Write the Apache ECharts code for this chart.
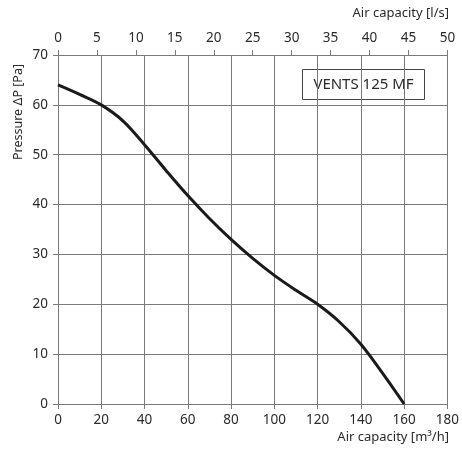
<!DOCTYPE html>
<html>
<head>
<meta charset="utf-8">
<script src="https://cdn.jsdelivr.net/npm/echarts@6/dist/echarts.min.js"></script>
<style>
  html, body { margin: 0; padding: 0; background: #fff; }
  #container { width: 462px; height: 454px; }
</style>
</head>
<body>
<div id="container"></div>
<script>
// air capacity m3/h vs pressure Pa
var flowM3h = [0, 10, 20, 30, 40, 50, 60, 70, 80, 90, 100, 110, 120, 130, 140, 150, 160];
var pressure = [64, 62.1, 60, 56.8, 52, 46.8, 41.8, 37.2, 33, 29.2, 25.8, 22.8, 20, 16.5, 12, 6.2, 0];
var modelName = 'VENTS 125 MF';

var dom = document.getElementById('container');
var myChart = echarts.init(dom, null, { renderer: 'canvas' });

var font = 'Noto Sans';
var gridColor = '#7a7a7a';
var textColor = '#2a2a2a';

var option = {
  animation: false,
  backgroundColor: '#fff',
  grid: { left: 58, right: 8, top: 55, bottom: 50 },
  xAxis: [
    {
      type: 'value',
      position: 'bottom',
      min: 0, max: 180, interval: 20,
      axisLine: { show: true, lineStyle: { color: gridColor, width: 1 } },
      axisTick: { show: true, length: 5, lineStyle: { color: gridColor } },
      axisLabel: { color: textColor, fontFamily: font, fontSize: 13.5, margin: 9 },
      splitLine: { show: true, lineStyle: { color: gridColor, width: 1 } }
    },
    {
      type: 'value',
      position: 'top',
      min: 0, max: 50, interval: 5,
      axisLine: { show: true, onZero: false, lineStyle: { color: gridColor, width: 1 } },
      axisTick: { show: true, length: 5, lineStyle: { color: gridColor } },
      axisLabel: { color: textColor, fontFamily: font, fontSize: 13.5, margin: 10 },
      splitLine: { show: false }
    }
  ],
  yAxis: {
    type: 'value',
    min: 0, max: 70, interval: 10,
    axisLine: { show: true, lineStyle: { color: gridColor, width: 1 } },
    axisTick: { show: true, length: 5, lineStyle: { color: gridColor } },
    axisLabel: { color: textColor, fontFamily: font, fontSize: 13.5, margin: 10 },
    splitLine: { show: true, lineStyle: { color: gridColor, width: 1 } }
  },
  graphic: [
    {
      type: 'text', right: 13, top: 7,
      style: { text: 'Air capacity [l/s]', fill: textColor, font: '13px "Noto Sans"' }
    },
    {
      type: 'text', right: 13, top: 431,
      style: { text: 'Air capacity [m³/h]', fill: textColor, font: '13px "Noto Sans"' }
    },
    {
      type: 'text', x: 18, y: 112, rotation: Math.PI / 2,
      style: { text: 'Pressure ΔP [Pa]', fill: textColor, font: '12.5px "Noto Sans"',
               align: 'center', verticalAlign: 'middle' }
    },
    {
      type: 'group', left: 302, top: 69,
      children: [
        { type: 'rect', shape: { x: 0, y: 0, width: 122, height: 30 },
          style: { fill: '#fff', stroke: '#444', lineWidth: 1 } },
        { type: 'text', x: 61, y: 15,
          style: { text: modelName, fill: textColor, font: '15px "Noto Sans"',
                   align: 'center', verticalAlign: 'middle' } }
      ]
    }
  ],
  series: [
    {
      type: 'line',
      xAxisIndex: 0,
      data: flowM3h.map(function (x, i) { return [x, pressure[i]]; }),
      smooth: 0.35,
      symbol: 'none',
      lineStyle: { color: '#1a1a1a', width: 3 }
    }
  ]
};

if (option && typeof option === 'object') {
  myChart.setOption(option);
}
</script>
</body>
</html>
